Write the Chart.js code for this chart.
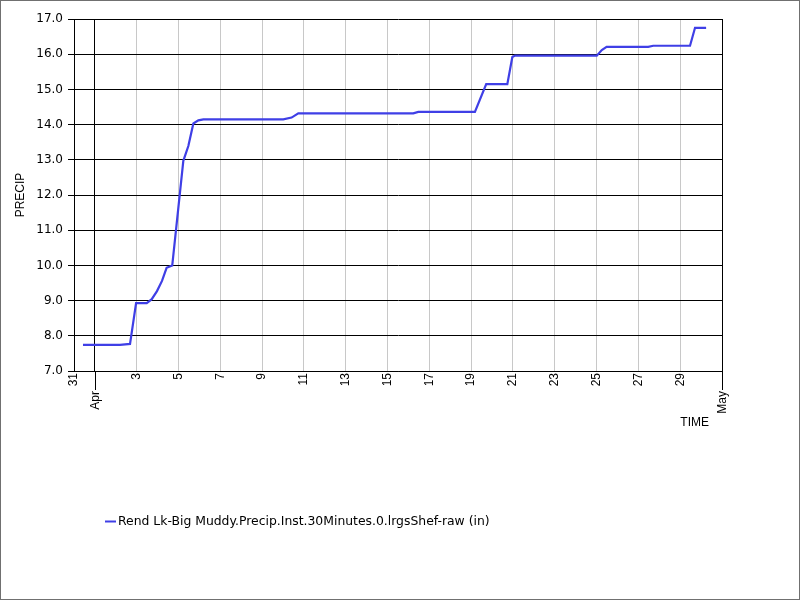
<!DOCTYPE html>
<html>
<head>
<meta charset="utf-8">
<script src="https://cdn.jsdelivr.net/npm/chart.js@4"></script>
<style>
  html, body { margin: 0; padding: 0; background: #ffffff; }
  canvas { display: block; }
</style>
</head>
<body>
<canvas id="c" width="800" height="600"></canvas>
<script>
// Time in days since 31 Mar 00:00 (1 = 1 Apr, 31 = 1 May)
const dayOffsets = [0.43, 2.20, 2.68, 2.97, 3.48, 3.72, 3.97, 4.21, 4.43, 4.70, 5.23, 5.47, 5.71, 5.95, 6.19,
  10.01, 10.41, 10.73, 16.23, 16.47, 19.18, 19.72, 20.73, 20.97, 21.10, 25.01, 25.25, 25.48, 27.47, 27.71,
  29.47, 29.71, 30.24];
const precipValues = [7.74, 7.74, 7.77, 8.93, 8.93, 9.04, 9.27, 9.56, 9.93, 10.00, 12.97, 13.39, 14.03, 14.12, 14.15,
  14.15, 14.20, 14.32, 14.32, 14.36, 14.36, 15.15, 15.15, 15.92, 15.96, 15.96, 16.12, 16.21, 16.21, 16.24,
  16.24, 16.75, 16.75];
const seriesLabel = 'Rend Lk-Big Muddy.Precip.Inst.30Minutes.0.lrgsShef-raw (in)';
const xTickValues = [0, 1, 3, 5, 7, 9, 11, 13, 15, 17, 19, 21, 23, 25, 27, 29, 31];
const xTickLabels = ['31', '', '3', '5', '7', '9', '11', '13', '15', '17', '19', '21', '23', '25', '27', '29', ''];
const monthTicks = [1, 31];
const monthLabels = ['Apr', 'May'];
const yMin = 7, yMax = 17;
const xTitle = 'TIME';
const yTitle = 'PRECIP';

const lineColor = '#3f3fe6';
const points = dayOffsets.map((d, i) => ({ x: d, y: precipValues[i] }));

const decorPlugin = {
  id: 'decor',
  afterDraw(chart) {
    const ctx = chart.ctx;
    const xs = chart.scales.x;
    const area = chart.chartArea;
    ctx.save();
    // month boundary ticks and labels
    ctx.strokeStyle = '#000';
    ctx.lineWidth = 1;
    ctx.fillStyle = '#000';
    ctx.font = '12px "Liberation Sans", Arial, sans-serif';
    monthTicks.forEach((v, i) => {
      const px = Math.round(xs.getPixelForValue(v)) + 0.5;
      ctx.beginPath();
      ctx.moveTo(px, area.bottom);
      ctx.lineTo(px, area.bottom + 19);
      ctx.stroke();
      ctx.save();
      ctx.translate(px, area.bottom + 20);
      ctx.rotate(-Math.PI / 2);
      ctx.textAlign = 'right';
      ctx.textBaseline = 'middle';
      ctx.fillText(monthLabels[i], 0, 0);
      ctx.restore();
    });
    // x axis title
    ctx.textAlign = 'right';
    ctx.textBaseline = 'middle';
    ctx.fillText(xTitle, area.right - 13, 423);
    // legend
    const ly = 521.5;
    ctx.strokeStyle = chart.data.datasets[0].borderColor;
    ctx.lineWidth = 2;
    ctx.beginPath();
    ctx.moveTo(105, ly);
    ctx.lineTo(116, ly);
    ctx.stroke();
    ctx.fillStyle = '#000';
    ctx.font = '12.4px "DejaVu Sans", sans-serif';
    ctx.textAlign = 'left';
    ctx.fillText(chart.data.datasets[0].label, 118, ly);
    // outer frame
    ctx.strokeStyle = '#707070';
    ctx.lineWidth = 1;
    ctx.strokeRect(0.5, 0.5, chart.width - 1, chart.height - 1);
    ctx.restore();
  }
};

new Chart(document.getElementById('c'), {
  type: 'line',
  data: {
    datasets: [{
      label: seriesLabel,
      data: points,
      borderColor: lineColor,
      backgroundColor: lineColor,
      borderWidth: 2.2,
      pointRadius: 0,
      tension: 0,
      fill: false
    }]
  },
  options: {
    responsive: false,
    animation: false,
    layout: { autoPadding: false, padding: { top: 19, right: 78, left: 0, bottom: 0 } },
    plugins: {
      legend: { display: false },
      tooltip: { enabled: false },
      title: { display: false }
    },
    scales: {
      x: {
        type: 'linear',
        min: 0,
        max: 31,
        afterFit(scale) { scale.height = 229; },
        afterBuildTicks(scale) { scale.ticks = xTickValues.map(v => ({ value: v })); },
        ticks: {
          autoSkip: false,
          minRotation: 90,
          maxRotation: 90,
          padding: 2,
          color: '#000',
          font: { family: '"Liberation Sans", Arial, sans-serif', size: 12 },
          callback(v) {
            const i = xTickValues.indexOf(v);
            return i >= 0 ? xTickLabels[i] : '';
          }
        },
        grid: {
          drawTicks: false,
          color(c) {
            const v = c.tick ? c.tick.value : null;
            return (v === 0 || monthTicks.includes(v)) ? '#000' : '#c8c8c8';
          },
          lineWidth: 1
        },
        border: { display: true, color: '#000', width: 1 }
      },
      y: {
        type: 'linear',
        min: yMin,
        max: yMax,
        afterFit(scale) { scale.width = 74; },
        ticks: {
          stepSize: 1,
          padding: 5,
          color: '#000',
          font: { family: '"DejaVu Sans", sans-serif', size: 12 },
          callback(v) { return Number(v).toFixed(1); }
        },
        grid: {
          color: '#000',
          lineWidth: 1,
          drawTicks: true,
          tickLength: 6
        },
        border: { display: true, color: '#000', width: 1 },
        title: {
          display: true,
          text: yTitle,
          color: '#000',
          font: { family: '"Liberation Sans", Arial, sans-serif', size: 12 },
          padding: { top: 13, bottom: 0 }
        }
      }
    }
  },
  plugins: [decorPlugin]
});
</script>
</body>
</html>
